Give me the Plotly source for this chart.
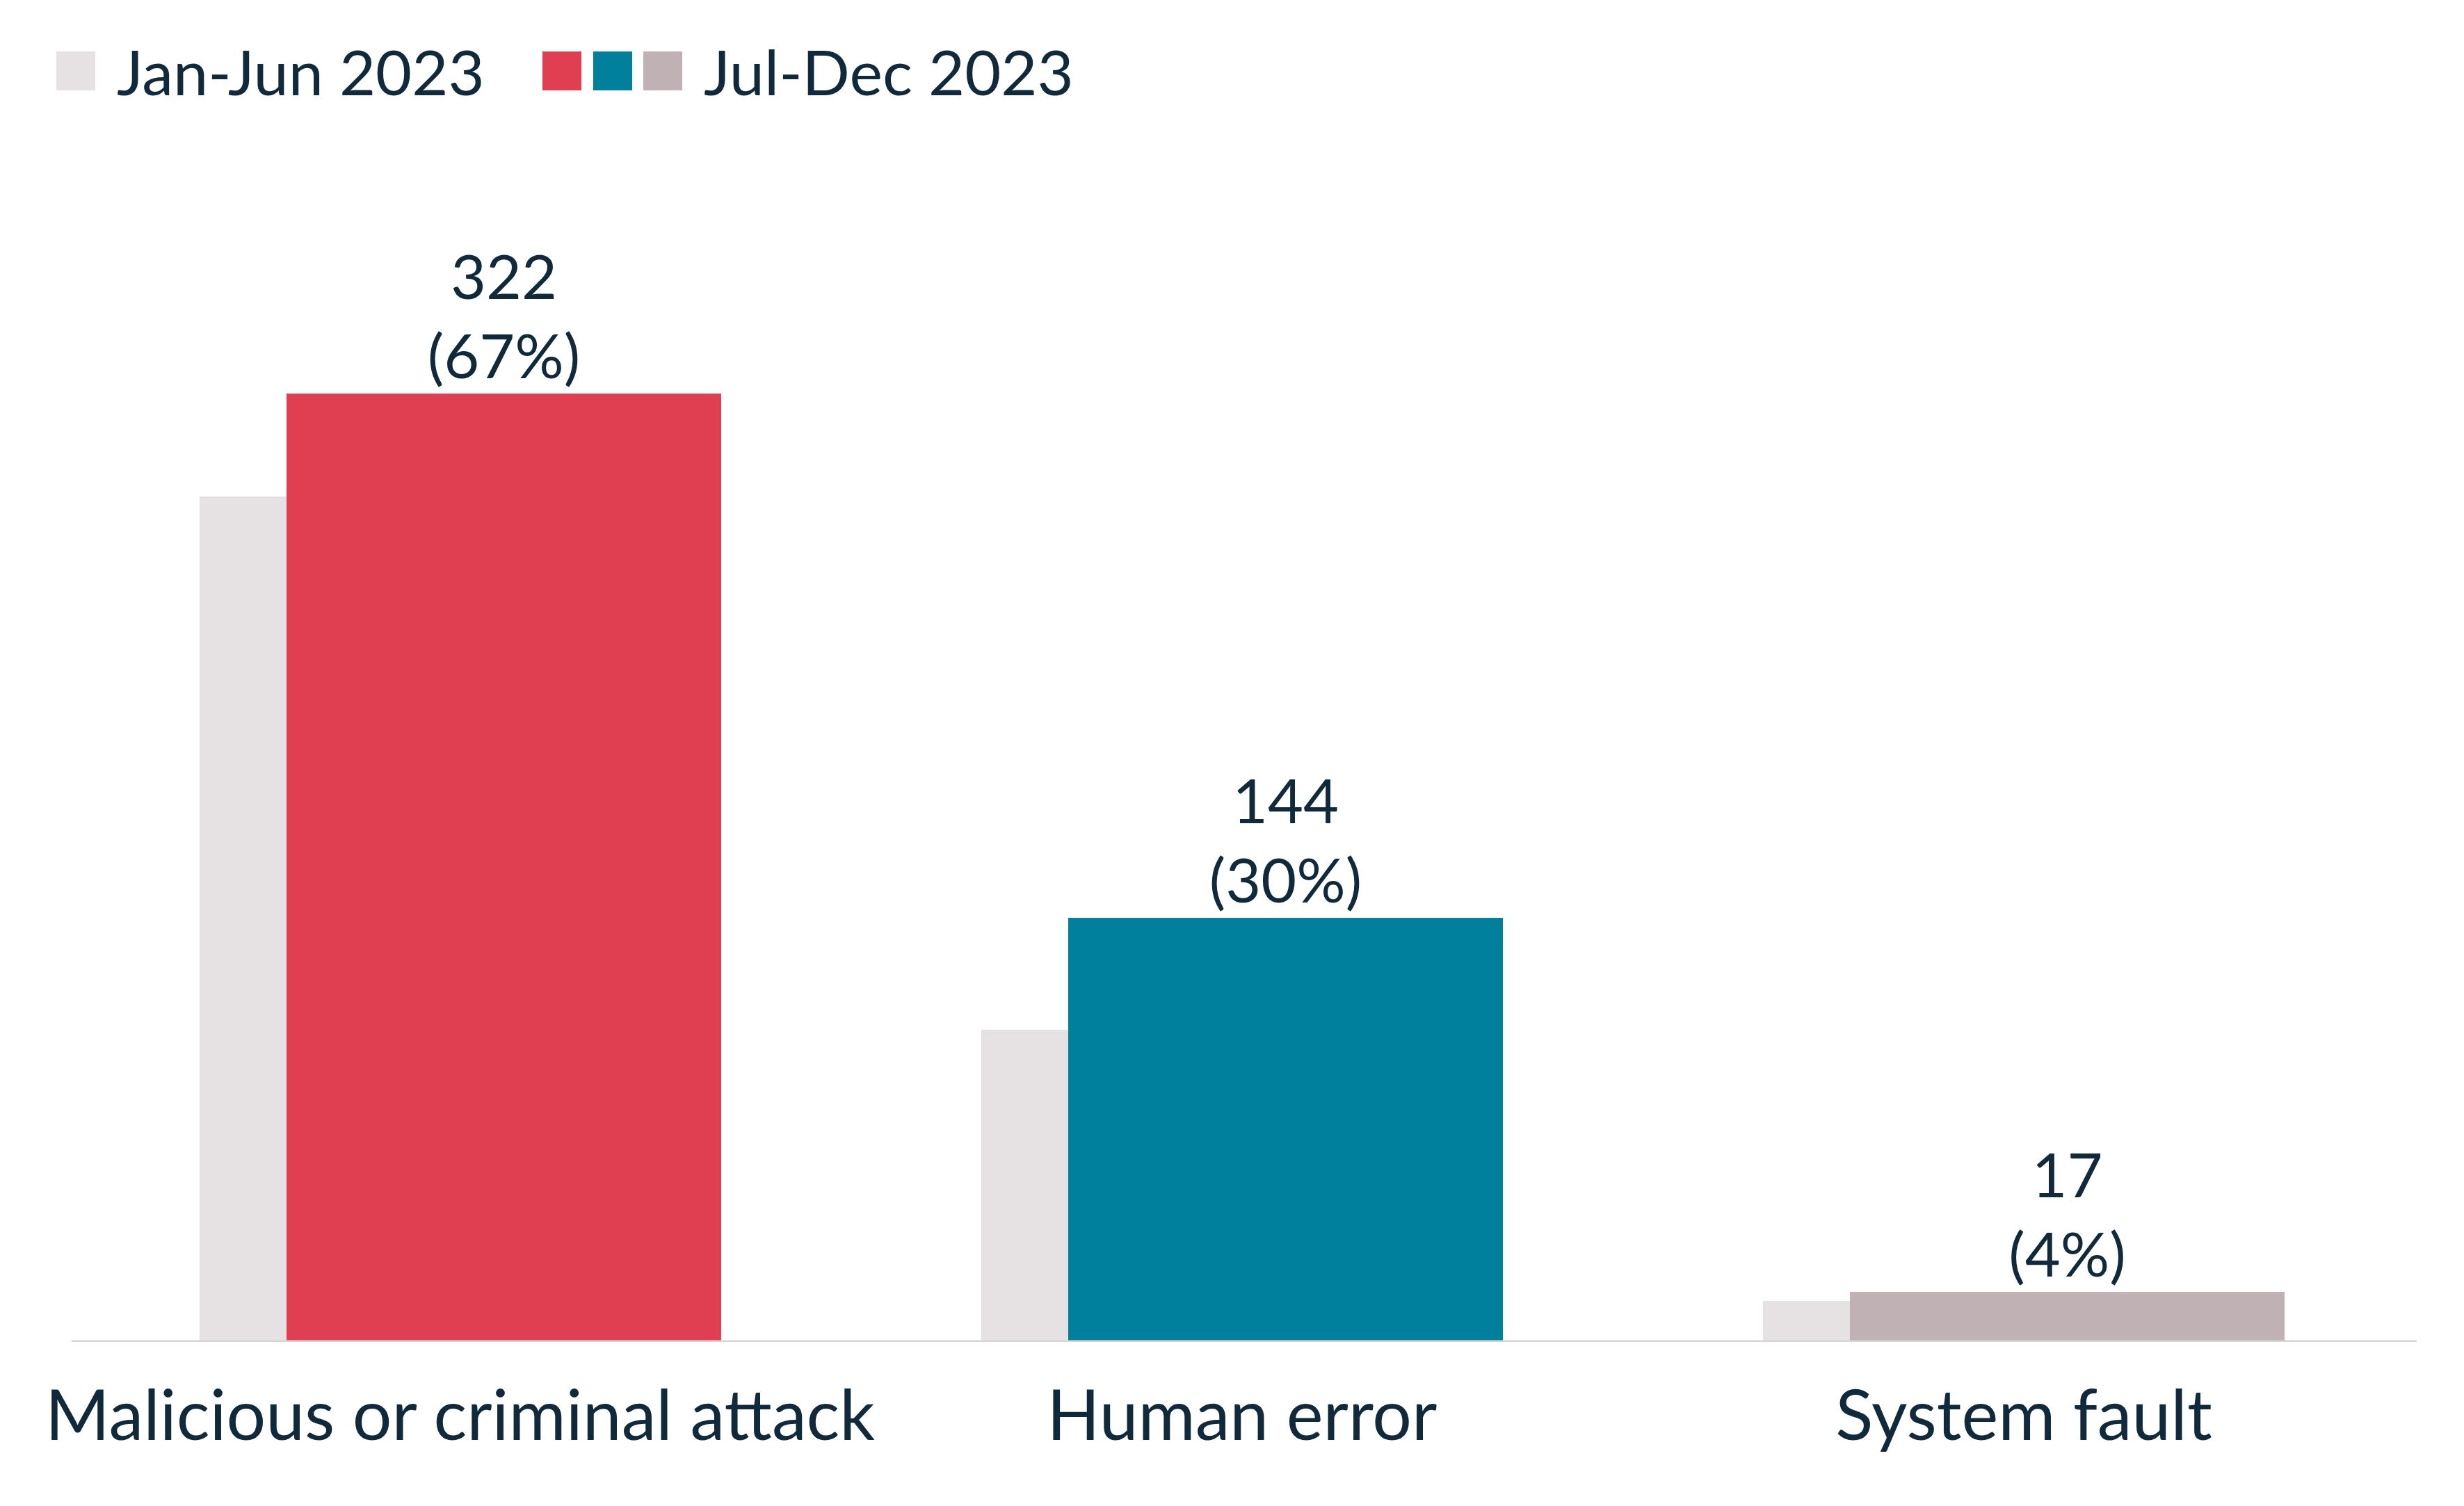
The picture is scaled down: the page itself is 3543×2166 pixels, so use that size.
import plotly.graph_objects as go

categories = ["Malicious or criminal attack", "Human error", "System fault"]
jan_jun = [287, 106, 14]
jul_dec = [322, 144, 17]
jul_pct = ["67%", "30%", "4%"]
jul_colors = ["#e03f52", "#00809c", "#bfb1b4"]
jan_color = "#e6e1e3"
ink = "#10293b"
font = "Lato"

W, H = 3543, 2166
L, R, T, B = 95, 76, 100, 244
pos = [0, 1, 2]

fig = go.Figure()
fig.add_trace(go.Bar(x=[p - 0.111 for p in pos], y=jan_jun, width=0.556,
                     marker=dict(color=jan_color, line_width=0), showlegend=False,
                     hoverinfo="skip"))
fig.add_trace(go.Bar(x=pos, y=jul_dec, width=0.556,
                     marker=dict(color=jul_colors, line_width=0), showlegend=False,
                     text=[f"{v}<br>({p})" for v, p in zip(jul_dec, jul_pct)],
                     textposition="outside", cliponaxis=False,
                     textfont=dict(family=font, size=88, color=ink)))

fig.update_layout(
    width=W, height=H, barmode="overlay", bargap=0,
    plot_bgcolor="white", paper_bgcolor="white",
    margin=dict(l=L, r=R, t=T, b=B),
    font=dict(family=font, color=ink),
    xaxis=dict(range=[-0.5525, 2.447], tickvals=[p - 0.0556 for p in pos],
               ticktext=categories, tickfont=dict(size=100, color=ink),
               showgrid=False, zeroline=False, showline=False, ticks="",
               ticklabelstandoff=40),
    yaxis=dict(range=[0, 430], visible=False),
    uniformtext=dict(minsize=60, mode="show"),
)
fig.add_shape(type="line", xref="paper", yref="y", x0=0, x1=1, y0=0, y1=0,
              line=dict(color="#d6d6d6", width=5))

# legend
def px(x):
    return (x - L) / (W - L - R)

def py(y):
    return 1 - (y - T) / (H - T - B)

sq = 56
ly = 94
legend_boxes = [(73, jan_color), (772, jul_colors[0]), (845, jul_colors[1]), (917, jul_colors[2])]
for x0, c in legend_boxes:
    fig.add_shape(type="rect", xref="paper", yref="paper", x0=px(x0), x1=px(x0 + sq),
                  y0=py(ly - sq / 2), y1=py(ly + sq / 2), fillcolor=c, line_width=0)
for x0, t in [(158, "Jan-Jun 2023"), (1002, "Jul-Dec 2023")]:
    fig.add_annotation(xref="paper", yref="paper", x=px(x0), y=py(ly), text=t,
                       showarrow=False, xanchor="left", yanchor="middle",
                       font=dict(size=90, color=ink, family=font))

fig.write_html("out.html")
